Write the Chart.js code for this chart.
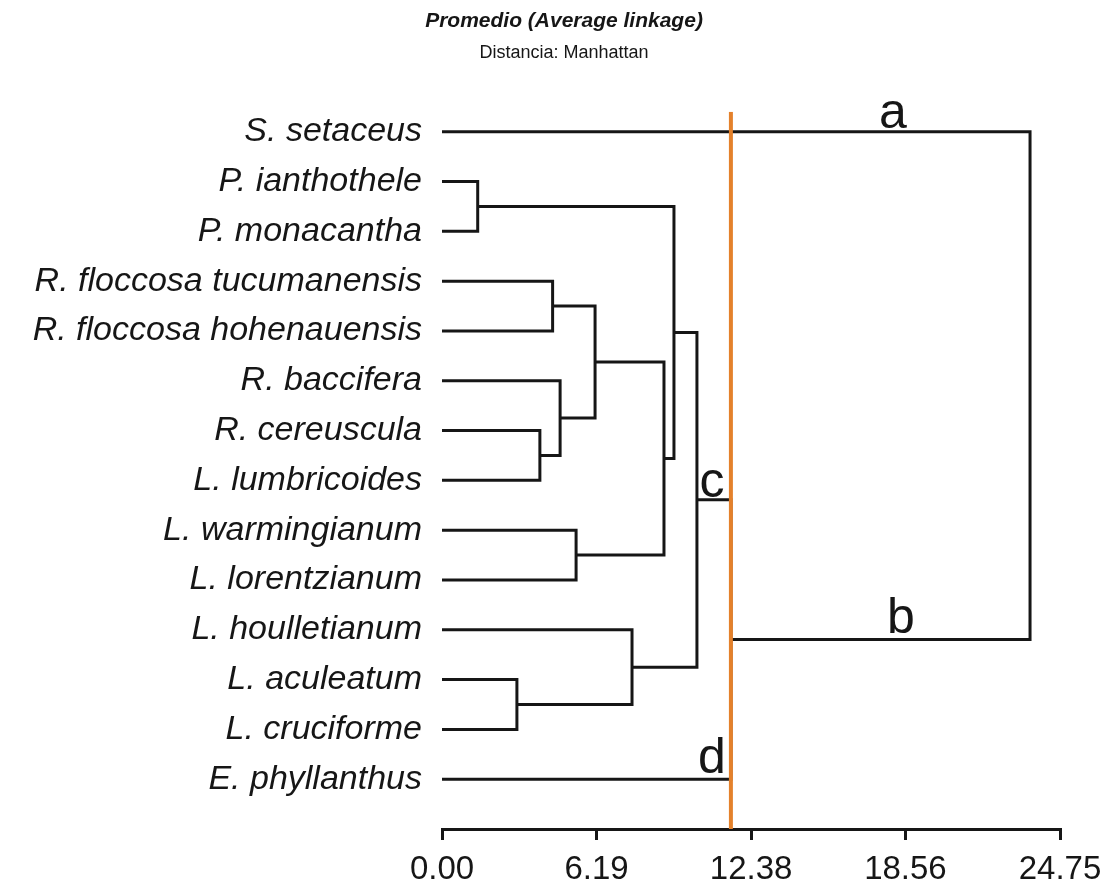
<!DOCTYPE html>
<html>
<head>
<meta charset="utf-8">
<script src="https://cdn.jsdelivr.net/npm/chart.js@4"></script>
<style>
  html, body { margin: 0; background: #fff; }
  #wrap { width: 1115px; height: 891px; }
</style>
</head>
<body>
<div id="wrap"><canvas id="dendro" width="1115" height="891"></canvas></div>
<script>
// leaves, top to bottom
const leaves = [
  "S. setaceus", "P. ianthothele", "P. monacantha", "R. floccosa tucumanensis",
  "R. floccosa hohenauensis", "R. baccifera", "R. cereuscula", "L. lumbricoides",
  "L. warmingianum", "L. lorentzianum", "L. houlletianum", "L. aculeatum",
  "L. cruciforme", "E. phyllanthus"
];
// merges: child A, child B (leaf index or "m" + earlier merge), distance
const mergeA = [1, 3, 6, 5, "m1", 8, "m4", "m0", 11, 10, "m7", "m10", 0];
const mergeB = [2, 4, 7, "m2", "m3", 9, "m5", "m6", 12, "m8", "m9", 13, "m11"];
const mergeDist = [1.43, 4.43, 3.92, 4.73, 6.13, 5.37, 8.89, 9.29, 3.00, 7.61, 10.21, 11.57, 23.55];

const tickValues = [0, 6.19, 12.38, 18.56, 24.75];
const cutDistance = 11.57;

// group letters a-d
const groupLetters = ["a", "b", "c", "d"];
const letterX = [18.06, 18.38, 10.81, 10.81];
const letterY = [-0.08, 10.06, 7.33, 12.87];

const INK = "#161616";
Chart.defaults.font.family = '"Liberation Sans", Arial, sans-serif';
Chart.defaults.color = INK;

// build the U-shaped links of the tree
const nodeY = {}, nodeH = {};
leaves.forEach((_, i) => { nodeY[i] = i; nodeH[i] = 0; });
const datasets = [];
mergeDist.forEach((d, k) => {
  const a = mergeA[k], b = mergeB[k];
  datasets.push({
    data: [
      { x: nodeH[a], y: nodeY[a] }, { x: d, y: nodeY[a] },
      { x: d, y: nodeY[b] }, { x: nodeH[b], y: nodeY[b] }
    ],
    borderColor: INK,
    borderWidth: 3,
    borderJoinStyle: "miter",
    pointRadius: 0,
    showLine: true,
    order: 2
  });
  nodeY["m" + k] = (nodeY[a] + nodeY[b]) / 2;
  nodeH["m" + k] = d;
});

// cut line
datasets.push({
  data: [{ x: cutDistance, y: -0.4 }, { x: cutDistance, y: 14 }],
  borderColor: "#e4812b",
  borderWidth: 4,
  pointRadius: 0,
  showLine: true,
  order: 0
});

const letterPlugin = {
  id: "groupLetters",
  afterDatasetsDraw(chart) {
    const { ctx, scales: { x, y } } = chart;
    ctx.save();
    ctx.font = '50px "Liberation Sans", Arial, sans-serif';
    ctx.fillStyle = INK;
    ctx.textAlign = "center";
    ctx.textBaseline = "alphabetic";
    groupLetters.forEach((t, i) => {
      ctx.fillText(t, x.getPixelForValue(letterX[i]), y.getPixelForValue(letterY[i]));
    });
    ctx.restore();
  }
};

new Chart(document.getElementById("dendro").getContext("2d"), {
  type: "scatter",
  data: { datasets },
  plugins: [letterPlugin],
  options: {
    responsive: false,
    animation: false,
    layout: { padding: { left: 13, right: 0, top: 0, bottom: 0 } },
    plugins: {
      legend: { display: false },
      tooltip: { enabled: false },
      title: {
        display: true,
        text: "Promedio (Average linkage)",
        font: { size: 21, weight: "bold", style: "italic" },
        padding: { top: 9, bottom: 4 }
      },
      subtitle: {
        display: true,
        text: "Distancia: Manhattan",
        font: { size: 18 },
        padding: { top: 4, bottom: 48 }
      }
    },
    scales: {
      x: {
        type: "linear",
        min: 0,
        max: 24.75,
        afterBuildTicks: s => { s.ticks = tickValues.map(v => ({ value: v })); },
        afterFit: s => { s.height = 62; },
        ticks: {
          callback: v => v.toFixed(2),
          font: { size: 33 },
          padding: 10,
          maxRotation: 0,
          autoSkip: false
        },
        grid: { drawOnChartArea: false, drawTicks: true, tickLength: 11, color: INK, lineWidth: 3 },
        border: { display: true, color: INK, width: 3 }
      },
      y: {
        type: "linear",
        min: -0.4,
        max: 14,
        reverse: true,
        afterBuildTicks: s => { s.ticks = leaves.map((_, i) => ({ value: i })); },
        afterFit: s => { s.width = 429; },
        ticks: {
          callback: v => leaves[v],
          font: { size: 34, style: "italic" },
          padding: 20,
          autoSkip: false
        },
        grid: { display: false, drawTicks: false },
        border: { display: false }
      },
      // empty right margin
      y2: {
        type: "linear",
        position: "right",
        afterFit: s => { s.width = 55; },
        ticks: { display: false },
        grid: { display: false, drawTicks: false },
        border: { display: false }
      }
    }
  }
});
</script>
</body>
</html>
